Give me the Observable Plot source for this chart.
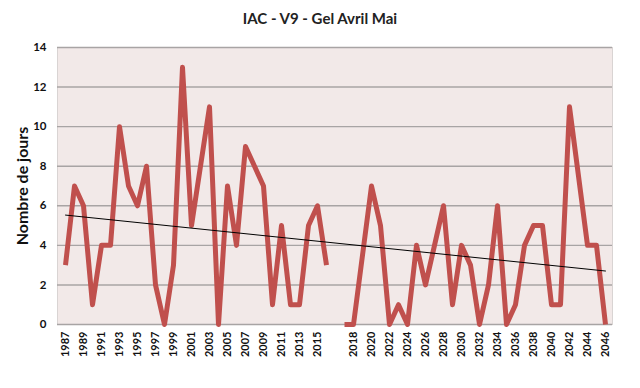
<!DOCTYPE html>
<html><head><meta charset="utf-8">
<script src="https://cdn.jsdelivr.net/npm/d3@7"></script>
<script src="https://cdn.jsdelivr.net/npm/@observablehq/plot@0.6"></script>
<style>
body{margin:0;background:#fff;font-family:Lato,"Open Sans",sans-serif;}
#title{height:30px;text-align:center;font-weight:bold;font-size:15px;line-height:36px;color:#222;}
#chart svg{display:block;}
</style></head><body>
<div id="title">IAC - V9 - Gel Avril Mai</div>
<div id="chart"></div>
<script>
// Categories (a blank category separates 2016 and 2017, as in the source chart)
const years = ["1987","1988","1989","1990","1991","1992","1993","1994","1995","1996",
  "1997","1998","1999","2000","2001","2002","2003","2004","2005","2006",
  "2007","2008","2009","2010","2011","2012","2013","2014","2015","2016",
  " ",
  "2017","2018","2019","2020","2021","2022","2023","2024","2025","2026",
  "2027","2028","2029","2030","2031","2032","2033","2034","2035","2036",
  "2037","2038","2039","2040","2041","2042","2043","2044","2045","2046"];
// Nombre de jours de gel (avril-mai)
const values = [3,7,6,1,4,4,10,7,6,8,
  2,0,3,13,5,8,11,0,7,4,
  9,8,7,1,5,1,1,5,6,3,
  null,
  0,0,3.5,7,5,0,1,0,4,2,
  4,6,1,4,3,0,2,6,0,1,
  4,5,5,1,1,11,7.5,4,4,0];
const yTicks = [0,2,4,6,8,10,12,14];
const xTickLabels = years.filter((d, i) => i % 2 === 0 && d.trim() !== "");

const data = years.map((year, i) => ({year, i, value: values[i]}));

// Linear trend (least squares over category index)
const pts = data.filter(d => d.value != null);
const mx = d3.mean(pts, d => d.i), my = d3.mean(pts, d => d.value);
const slope = d3.sum(pts, d => (d.i - mx) * (d.value - my)) / d3.sum(pts, d => (d.i - mx) ** 2);
const intercept = my - slope * mx;
const trend = [data[0], data[data.length - 1]].map(d => ({year: d.year, value: intercept + slope * d.i}));

const chart = Plot.plot({
  width: 640,
  height: 358,
  marginTop: 17,
  marginBottom: 64,
  marginLeft: 57,
  marginRight: 28,
  style: {fontFamily: "Lato, 'Open Sans', sans-serif", fontWeight: "bold", color: "#111", background: "#fff"},
  x: {type: "point", domain: years, padding: 0.5},
  y: {domain: [0, 14]},
  marks: [
    Plot.frame({fill: "#f2e9e8", stroke: "#d9d4d3"}),
    Plot.ruleY(yTicks, {stroke: "#a8a4a4", strokeWidth: 1.4}),
    Plot.axisY({ticks: yTicks, tickSize: 0, tickPadding: 11, fontSize: 11.5, label: null}),
    Plot.axisX({ticks: xTickLabels, tickSize: 0, tickRotate: -90, tickPadding: 7, fontSize: 11, label: null}),
    Plot.line(data, {x: "year", y: "value", stroke: "#c0504d", strokeWidth: 5, strokeLinejoin: "round", strokeLinecap: "butt"}),
    Plot.line(trend, {x: "year", y: "value", stroke: "#000", strokeWidth: 1}),
    Plot.text(["Nombre de jours"], {frameAnchor: "left", textAnchor: "middle", rotate: -90, dx: -35, fontSize: 16, fontWeight: "bold", fill: "#111"})
  ]
});
document.getElementById("chart").appendChild(chart);
</script>
</body></html>
